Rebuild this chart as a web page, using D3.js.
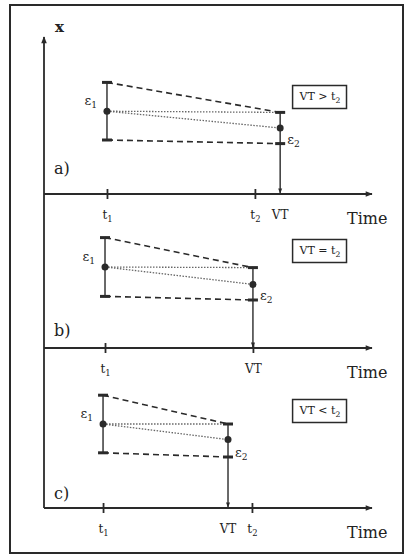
<!DOCTYPE html>
<html>
<head>
<meta charset="utf-8">
<script src="https://cdn.jsdelivr.net/npm/d3@7"></script>
<style>
  body { margin: 0; background: #fff; }
  text { font-family: "DejaVu Serif", "Liberation Serif", serif; fill: #222; }
</style>
</head>
<body>
<svg id="chart"></svg>
<script>
// panel data (time in arbitrary units 0..100, x in arbitrary units 0..10)
const panelLabels = ['a)', 'b)', 'c)'];
const conditions = [['VT > t', '2'], ['VT = t', '2'], ['VT < t', '2']];
const t1Values = [19.2, 18.6, 18.0];
const t2Values = [64.3, 63.7, 63.4];
const vtValues = [72.0, 63.7, 56.1];
// [low, mid, high]
const e1Values = [[4.5, 6.9, 9.3], [4.3, 6.75, 9.2], [4.6, 7.0, 9.4]];
const e2Values = [[4.2, 5.5, 6.8], [4.0, 5.3, 6.7], [4.25, 5.7, 7.0]];

const width = 407, height = 556;
const axisYs = [194, 348, 508];   // baseline of each panel
const panelLabelOffsets = [20, 12, 9];
const ink = '#2a2a2a';

const svg = d3.select('#chart')
    .attr('width', width)
    .attr('height', height);

// write "base" with a lowered subscript into a text selection
function subText(sel, base, sub, size) {
  sel.text(null);
  sel.append('tspan').text(base);
  sel.append('tspan')
      .attr('dy', size * 0.25)
      .style('font-size', (size * 0.7) + 'px')
      .text(sub);
}

// outer frame
svg.append('rect')
    .attr('x', 10).attr('y', 5)
    .attr('width', 393).attr('height', 548)
    .attr('fill', 'none')
    .attr('stroke', ink)
    .attr('stroke-width', 2);

const xScale = d3.scaleLinear()
    .domain([0, 100])
    .range([44, 372]);

const defs = svg.append('defs');
defs.append('marker')
    .attr('id', 'arrow')
    .attr('viewBox', '0 0 10 10')
    .attr('refX', 9).attr('refY', 5)
    .attr('markerWidth', 9).attr('markerHeight', 7)
    .attr('markerUnits', 'userSpaceOnUse')
    .attr('orient', 'auto')
  .append('path')
    .attr('d', 'M0,1 L10,5 L0,9 Z')
    .attr('fill', ink);
defs.append('marker')
    .attr('id', 'arrowSmall')
    .attr('viewBox', '0 0 10 10')
    .attr('refX', 9).attr('refY', 5)
    .attr('markerWidth', 6).attr('markerHeight', 5)
    .attr('markerUnits', 'userSpaceOnUse')
    .attr('orient', 'auto')
  .append('path')
    .attr('d', 'M0,1 L10,5 L0,9 Z')
    .attr('fill', ink);

// main vertical axis (x), shared by all panels
svg.append('line')
    .attr('x1', xScale(0)).attr('x2', xScale(0))
    .attr('y1', axisYs[2]).attr('y2', 37)
    .attr('stroke', ink)
    .attr('stroke-width', 1.8)
    .attr('marker-end', 'url(#arrow)');

svg.append('text')
    .attr('x', 55).attr('y', 32)
    .style('font-size', '15px')
    .style('font-weight', 'bold')
    .text('x');

panelLabels.forEach((label, i) => {
  const axisY = axisYs[i];
  const yScale = d3.scaleLinear()
      .domain([0, 10])
      .range([axisY, axisY - 120]);

  const g = svg.append('g');
  const t1 = t1Values[i], t2 = t2Values[i], vt = vtValues[i];
  const e1 = e1Values[i], e2 = e2Values[i];

  // time axis
  g.append('line')
      .attr('x1', xScale(0)).attr('x2', xScale(100))
      .attr('y1', axisY).attr('y2', axisY)
      .attr('stroke', ink)
      .attr('stroke-width', 1.8)
      .attr('marker-end', 'url(#arrow)');

  const tickVals = [t1, t2];
  const tickLabels = vt === t2 ? [['t', '1'], ['VT', '']] : [['t', '1'], ['t', '2']];
  const timeAxis = d3.axisBottom(xScale)
      .tickValues(tickVals)
      .tickSize(5)
      .tickPadding(11)
      .tickFormat(() => '');

  const axisG = g.append('g')
      .attr('transform', `translate(0,${axisY})`)
      .call(timeAxis)
      .call(a => a.select('.domain').remove());
  axisG.selectAll('.tick line')
      .attr('y1', -5).attr('y2', 5)
      .attr('stroke', ink)
      .attr('stroke-width', 1.8);
  axisG.selectAll('.tick text')
      .attr('fill', ink)
      .attr('dy', null)
      .attr('y', 25)
      .style('font-family', '"DejaVu Serif", serif')
      .style('font-size', '12px')
      .each(function(d, j) {
        subText(d3.select(this), tickLabels[j][0], tickLabels[j][1], 12);
      });

  if (vt !== t2) {
    g.append('text')
        .attr('x', xScale(vt))
        .attr('y', axisY + 25)
        .attr('text-anchor', 'middle')
        .style('font-size', '12px')
        .text('VT');
  }

  g.append('text')
      .attr('x', 347)
      .attr('y', axisY + 30)
      .style('font-size', '16px')
      .text('Time');

  g.append('text')
      .attr('x', 54)
      .attr('y', axisY - panelLabelOffsets[i])
      .style('font-size', '16px')
      .text(label);

  // connecting lines
  const connect = (xa, ya, xb, yb, dash, col, w) =>
    g.append('line')
        .attr('x1', xScale(xa)).attr('y1', yScale(ya))
        .attr('x2', xScale(xb)).attr('y2', yScale(yb))
        .attr('stroke', col)
        .attr('stroke-width', w)
        .attr('stroke-dasharray', dash);

  connect(t1, e1[2], vt, e2[2], '6,4', ink, 1.6);
  connect(t1, e1[0], vt, e2[0], '6,4', ink, 1.6);
  connect(t1, e1[1], vt, e2[2], '1.5,1.5', '#666', 1.3);
  connect(t1, e1[1], vt, e2[1], '1.5,1.5', '#666', 1.3);

  // error bar e1
  g.append('line')
      .attr('x1', xScale(t1)).attr('x2', xScale(t1))
      .attr('y1', yScale(e1[0])).attr('y2', yScale(e1[2]))
      .attr('stroke', ink).attr('stroke-width', 1.4);

  // error bar e2, with drop line to the time axis
  g.append('line')
      .attr('x1', xScale(vt)).attr('x2', xScale(vt))
      .attr('y1', yScale(e2[2])).attr('y2', axisY - 1)
      .attr('stroke', ink).attr('stroke-width', 1.4)
      .attr('marker-end', 'url(#arrowSmall)');

  const caps = [[t1, e1[0]], [t1, e1[2]], [vt, e2[0]], [vt, e2[2]]];
  g.selectAll('.cap')
      .data(caps)
    .join('line')
      .attr('class', 'cap')
      .attr('x1', d => xScale(d[0]) - 5).attr('x2', d => xScale(d[0]) + 5)
      .attr('y1', d => yScale(d[1])).attr('y2', d => yScale(d[1]))
      .attr('stroke', ink)
      .attr('stroke-width', 3);

  g.selectAll('.dot')
      .data([[t1, e1[1]], [vt, e2[1]]])
    .join('circle')
      .attr('class', 'dot')
      .attr('cx', d => xScale(d[0]))
      .attr('cy', d => yScale(d[1]))
      .attr('r', 3.5)
      .attr('fill', ink);

  // error labels
  g.append('text')
      .attr('x', xScale(t1) - 10)
      .attr('y', yScale(e1[1]) - 6)
      .attr('text-anchor', 'end')
      .style('font-size', '13px')
      .call(s => subText(s, 'ε', '1', 13));

  g.append('text')
      .attr('x', xScale(vt) + 7)
      .attr('y', yScale(e2[0]))
      .style('font-size', '13px')
      .call(s => subText(s, 'ε', '2', 13));

  // condition box
  const boxG = g.append('g')
      .attr('transform', `translate(320,${axisY - 97})`);
  const boxText = boxG.append('text')
      .attr('text-anchor', 'middle')
      .attr('y', 3)
      .style('font-size', '11px')
      .call(s => subText(s, conditions[i][0], conditions[i][1], 11));
  const bb = boxText.node().getBBox();
  boxG.insert('rect', 'text')
      .attr('x', bb.x - 6).attr('y', -11.5)
      .attr('width', bb.width + 12).attr('height', 23)
      .attr('fill', 'none')
      .attr('stroke', ink)
      .attr('stroke-width', 1.5);
});
</script>
</body>
</html>
